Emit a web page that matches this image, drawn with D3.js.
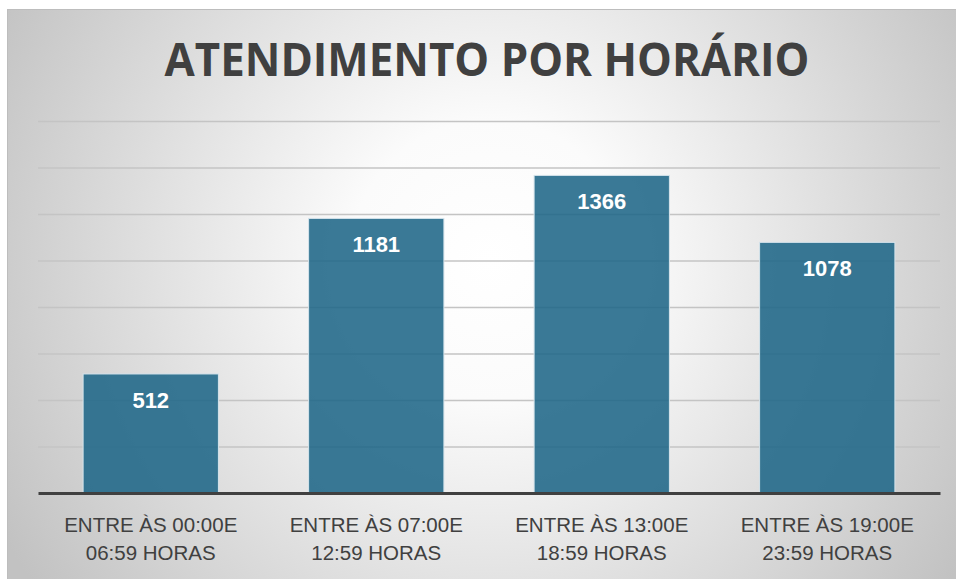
<!DOCTYPE html>
<html>
<head>
<meta charset="utf-8">
<script src="https://cdn.jsdelivr.net/npm/d3@7"></script>
<style>
  html, body { margin: 0; padding: 0; background: #fff; }
  svg { display: block; }
</style>
</head>
<body>
<div id="chart"></div>
<script>
var categories = [
  ["ENTRE ÀS 00:00E", "06:59 HORAS"],
  ["ENTRE ÀS 07:00E", "12:59 HORAS"],
  ["ENTRE ÀS 13:00E", "18:59 HORAS"],
  ["ENTRE ÀS 19:00E", "23:59 HORAS"]
]
var values = [512, 1181, 1366, 1078]
var yTicks = [0, 200, 400, 600, 800, 1000, 1200, 1400, 1600]
var title = "ATENDIMENTO POR HORÁRIO"

var W = 956, H = 579
var margin = { top: 121, right: 16, bottom: 86, left: 38 }
var width = W - margin.left - margin.right

var svg = d3.select("#chart").append("svg")
  .attr("width", W)
  .attr("height", H)

// background gradient
var defs = svg.append("defs")
var grad = defs.append("radialGradient")
  .attr("id", "bg")
  .attr("gradientUnits", "userSpaceOnUse")
  .attr("cx", 490).attr("cy", 260).attr("r", 560)
grad.append("stop").attr("offset", "0%").attr("stop-color", "#ffffff")
grad.append("stop").attr("offset", "25%").attr("stop-color", "#fbfbfb")
grad.append("stop").attr("offset", "100%").attr("stop-color", "#c2c2c2")

svg.append("rect")
  .attr("x", 7).attr("y", 9)
  .attr("width", W - 7).attr("height", H - 9)
  .attr("fill", "url(#bg)")
svg.append("line")
  .attr("x1", 7).attr("x2", W).attr("y1", 9.5).attr("y2", 9.5)
  .attr("stroke", "#bdbdbd")
svg.append("line")
  .attr("x1", 7.5).attr("x2", 7.5).attr("y1", 9).attr("y2", H)
  .attr("stroke", "#bdbdbd")

svg.append("text")
  .attr("x", 487)
  .attr("y", 76)
  .attr("text-anchor", "middle")
  .attr("font-family", "Open Sans, sans-serif")
  .attr("font-weight", "bold")
  .attr("font-size", 46)
  .attr("textLength", 645)
  .attr("lengthAdjust", "spacingAndGlyphs")
  .attr("fill", "#404040")
  .text(title)

var g = svg.append("g")
  .attr("transform", "translate(" + margin.left + "," + margin.top + ")")

var x = d3.scaleBand()
  .domain(d3.range(values.length))
  .range([0, width])
  .paddingInner(0.4)
  .paddingOuter(0.2)

var y = d3.scaleLinear()
  .domain([0, 1600])
  .range([372, 0])

// gridlines
g.append("g")
  .attr("class", "grid")
  .call(d3.axisLeft(y).tickValues(yTicks.slice(1)).tickSize(-width).tickFormat(""))
  .call(function (s) { s.select(".domain").remove() })
  .selectAll("line")
  .attr("stroke", "#c4c4c4")
  .attr("stroke-width", 1.5)

// bars
g.selectAll(".bar").data(values)
  .enter()
  .append("rect")
  .attr("class", "bar")
  .attr("x", function (d, i) { return x(i) })
  .attr("width", x.bandwidth())
  .attr("y", function (d) { return y(d) })
  .attr("height", function (d) { return y(0) - y(d) })
  .attr("fill", "#1f6688")
  .attr("fill-opacity", 0.88)
  .attr("stroke", "#d6e4ec")
  .attr("stroke-width", 1)

// value labels
g.selectAll(".lbl").data(values)
  .enter()
  .append("text")
  .attr("class", "lbl")
  .attr("x", function (d, i) { return x(i) + x.bandwidth() / 2 })
  .attr("y", function (d) { return y(d) + 34 })
  .attr("text-anchor", "middle")
  .attr("font-family", "Liberation Sans, Arial, sans-serif")
  .attr("font-weight", "bold")
  .attr("font-size", 22)
  .attr("fill", "#ffffff")
  .text(function (d) { return d })

// x axis
var xAxis = g.append("g")
  .attr("transform", "translate(0," + y(0) + ")")
  .call(d3.axisBottom(x).tickSize(0).tickFormat(""))
xAxis.select(".domain")
  .attr("stroke", "#404040")
  .attr("stroke-width", 3)

xAxis.selectAll(".tick").each(function (d) {
  var t = d3.select(this).append("text")
    .attr("fill", "#404040")
    .attr("font-family", "Liberation Sans, Arial, sans-serif")
    .attr("font-size", 20.5)
    .attr("text-anchor", "middle")
  t.append("tspan").attr("x", 0).attr("y", 39).text(categories[d][0])
  t.append("tspan").attr("x", 0).attr("y", 67).text(categories[d][1])
})
</script>
</body>
</html>
